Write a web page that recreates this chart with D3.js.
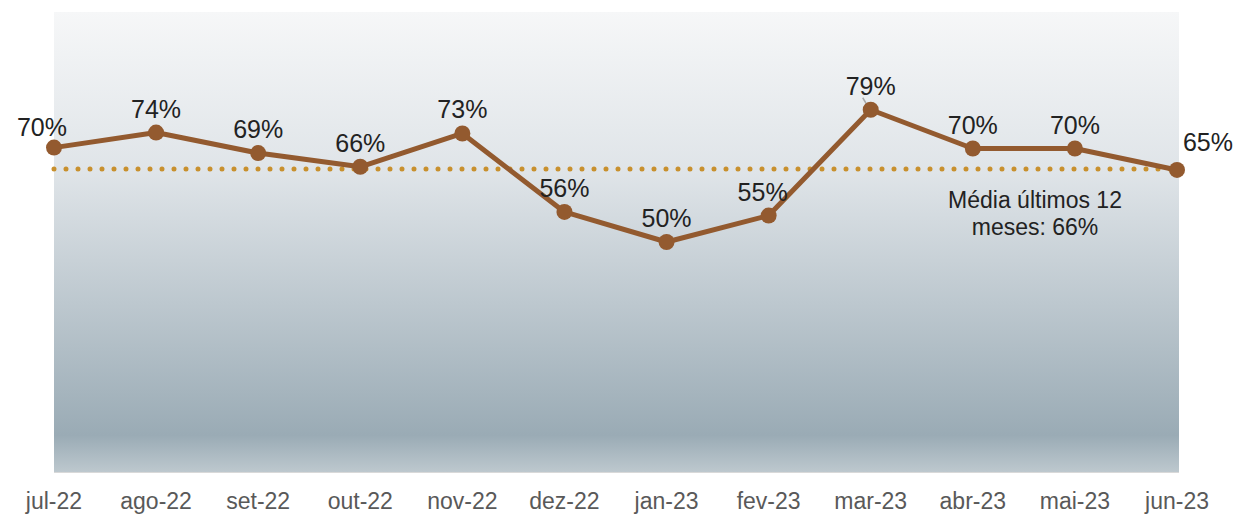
<!DOCTYPE html>
<html>
<head>
<meta charset="utf-8">
<script src="https://cdn.jsdelivr.net/npm/d3@7"></script>
<style>
  body { margin: 0; background: #fff; }
  svg { display: block; }
</style>
</head>
<body>
<svg width="1238" height="518"></svg>
<script>
const months = ['jul-22', 'ago-22', 'set-22', 'out-22', 'nov-22', 'dez-22', 'jan-23', 'fev-23', 'mar-23', 'abr-23', 'mai-23', 'jun-23'];
const values = [0.70, 0.74, 0.69, 0.66, 0.73, 0.56, 0.50, 0.55, 0.79, 0.70, 0.70, 0.65];
const plotted = [0.707, 0.74, 0.695, 0.665, 0.738, 0.566, 0.50, 0.558, 0.79, 0.705, 0.705, 0.658];
const average = 0.66;
const avgLabel = ['Média últimos 12', 'meses: 66%'];

const svg = d3.select('svg');
const pLeft = 54, pRight = 1179, pTop = 12, pBottom = 472;
const font = 'Liberation Sans, Arial, sans-serif';

const x = d3.scalePoint().domain(months).range([54, 1177]);
const y = d3.scaleLinear().domain([0, 1]).range([pBottom - 2, pTop + 2]);

// background gradient
const grad = svg.append('defs').append('linearGradient')
  .attr('id', 'bg').attr('x1', 0).attr('y1', 0).attr('x2', 0).attr('y2', 1);
grad.append('stop').attr('offset', '0%').attr('stop-color', '#f6f7f8');
grad.append('stop').attr('offset', '35%').attr('stop-color', '#dfe4e8');
grad.append('stop').attr('offset', '92%').attr('stop-color', '#9aabb5');
grad.append('stop').attr('offset', '100%').attr('stop-color', '#bdc8ce');

svg.append('rect')
  .attr('x', pLeft).attr('y', pTop)
  .attr('width', pRight - pLeft).attr('height', pBottom - pTop)
  .attr('fill', 'url(#bg)');

svg.append('line')
  .attr('x1', pLeft).attr('x2', pRight)
  .attr('y1', pBottom + 0.5).attr('y2', pBottom + 0.5)
  .attr('stroke', '#d9d9d9').attr('stroke-width', 1);

// average dotted line
svg.append('line')
  .attr('x1', x(months[0])).attr('x2', x(months[months.length - 1]))
  .attr('y1', y(average)).attr('y2', y(average))
  .attr('stroke', '#c8902e').attr('stroke-width', 5)
  .attr('stroke-linecap', 'round')
  .attr('stroke-dasharray', '0 12');

const avgText = svg.append('text')
  .attr('x', 1035).attr('y', 208)
  .attr('text-anchor', 'middle')
  .style('font-family', font)
  .style('font-size', '23px')
  .style('fill', '#222');
avgLabel.forEach((t, i) => {
  avgText.append('tspan').attr('x', 1035).attr('dy', i === 0 ? 0 : 27).text(t);
});

// series line
const data = months.map((m, i) => ({ m, v: values[i], p: plotted[i] }));

svg.append('path')
  .datum(data)
  .attr('fill', 'none')
  .attr('stroke', '#935a2f')
  .attr('stroke-width', 5)
  .attr('stroke-linejoin', 'round')
  .attr('d', d3.line().x(d => x(d.m)).y(d => y(d.p)));

// small leader ticks
['jan-23', 'mar-23'].forEach(m => {
  const d = data.find(e => e.m === m);
  svg.append('line')
    .attr('x1', x(m) - (m === 'mar-23' ? 8 : 0)).attr('y1', y(d.p) - (m === 'mar-23' ? 12 : 8))
    .attr('x2', x(m) - (m === 'mar-23' ? 2 : 0)).attr('y2', y(d.p) - 2)
    .attr('stroke', '#a9a9a9').attr('stroke-width', 1.5);
});

svg.selectAll('.dot')
  .data(data)
  .enter()
  .append('circle')
  .attr('cx', d => x(d.m))
  .attr('cy', d => y(d.p))
  .attr('r', 8)
  .attr('fill', '#935a2f');

const last = months.length - 1;
svg.selectAll('.lbl')
  .data(data)
  .enter()
  .append('text')
  .attr('x', (d, i) => x(d.m) + (i === 0 ? -12 : i === last ? 31 : d.m === 'fev-23' ? -6 : 0))
  .attr('y', (d, i) => y(d.p) - (i === 0 ? 12 : i === last ? 19 : 15))
  .attr('text-anchor', 'middle')
  .style('font-family', font)
  .style('font-size', '25px')
  .style('fill', '#222')
  .text(d => Math.round(d.v * 100) + '%');

// x axis labels
svg.selectAll('.xl')
  .data(months)
  .enter()
  .append('text')
  .attr('x', d => x(d))
  .attr('y', 509)
  .attr('text-anchor', 'middle')
  .style('font-family', font)
  .style('font-size', '23px')
  .style('fill', '#595959')
  .text(d => d);
</script>
</body>
</html>
